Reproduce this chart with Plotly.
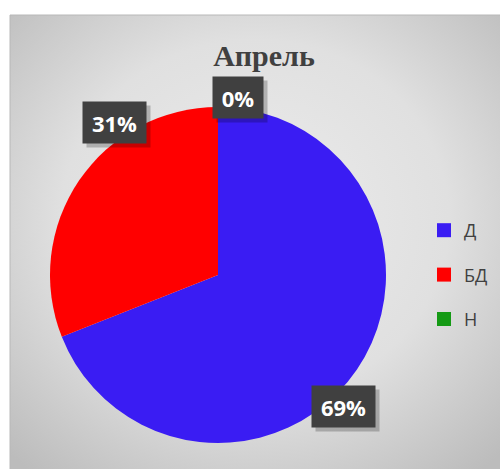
import base64
import plotly.graph_objects as go

# ---- data ----
categories = ["Д", "БД", "Н"]
values = [69, 31, 0]
colors = ["#3A1CF3", "#FF0000", "#159A15"]
title_text = "Апрель"

W, H = 500, 469

# label box positions (paper px, centre of each box) for each category
label_pos_px = {"Д": (343, 406), "БД": (114, 122), "Н": (238, 98)}

fig = go.Figure()

# pie geometry in pixels -> paper domain
cx, cy, r = 218, 275, 168
dom_x = [(cx - r) / W, (cx + r) / W]
dom_y = [(H - cy - r) / H, (H - cy + r) / H]

fig.add_trace(go.Pie(
    labels=categories, values=values, sort=False, direction="clockwise",
    rotation=0, marker=dict(colors=colors, line=dict(width=0)),
    textinfo="none", showlegend=False, domain=dict(x=dom_x, y=dom_y),
    hoverinfo="label+percent",
))

# legend entries
for i, (c, col) in enumerate(zip(categories, colors)):
    fig.add_trace(go.Scatter(
        x=[None], y=[None], mode="markers", name=c, legendgroup=f"g{i}",
        marker=dict(symbol="square", size=14, color=col), showlegend=True,
    ))

# gradient background via svg
svg = f'''<svg xmlns="http://www.w3.org/2000/svg" width="490" height="454">
<defs><radialGradient id="g" cx="50%" cy="45%" r="72%">
<stop offset="0" stop-color="#ececec"/><stop offset="0.55" stop-color="#e0e0e0"/>
<stop offset="1" stop-color="#bcbcbc"/></radialGradient></defs>
<rect width="490" height="454" fill="url(#g)"/></svg>'''
src = "data:image/svg+xml;base64," + base64.b64encode(svg.encode()).decode()

fig.add_layout_image(dict(
    source=src, xref="paper", yref="paper", x=10 / W, y=1 - 15 / H,
    sizex=490 / W, sizey=454 / H, sizing="stretch", layer="below",
    xanchor="left", yanchor="top",
))
fig.add_shape(type="rect", xref="paper", yref="paper",
              x0=10 / W, x1=1.01, y0=-0.01, y1=1 - 15 / H,
              line=dict(color="#b8b8b8", width=1), fillcolor="rgba(0,0,0,0)",
              layer="below")

# data labels
total = sum(values)
for c, v in zip(categories, values):
    px, py = label_pos_px[c]
    txt = f"{round(100 * v / total)}%"
    w = 38 if len(txt) == 2 else 51
    common = dict(xref="paper", yref="paper", x=px / W, y=1 - py / H,
                  xanchor="center", yanchor="middle",
                  showarrow=False, width=w, height=29, borderpad=6)
    fig.add_annotation(text=txt, bgcolor="rgba(0,0,0,0.22)", xshift=4, yshift=-4,
                       font=dict(family="Open Sans", size=22, color="rgba(0,0,0,0)"),
                       **common)
    fig.add_annotation(text=f"<b>{txt}</b>", bgcolor="#404040",
                       font=dict(family="Open Sans", size=22, color="white"),
                       **common)

fig.update_layout(
    width=W, height=H, margin=dict(l=0, r=0, t=0, b=0),
    paper_bgcolor="white", plot_bgcolor="rgba(0,0,0,0)",
    xaxis=dict(visible=False), yaxis=dict(visible=False),
    title=dict(text=f"<b>{title_text}</b>", x=264 / W, xanchor="center",
               y=1 - 55 / H, yanchor="middle",
               font=dict(family="Liberation Serif", size=30, color="#404040")),
    legend=dict(x=424 / W, xanchor="left", y=1 - 275 / H, yanchor="middle",
                font=dict(family="Open Sans", size=18, color="#404040"),
                tracegroupgap=18, bgcolor="rgba(0,0,0,0)", itemwidth=30),
    showlegend=True,
)

fig.write_html("out.html", config={"displayModeBar": False},
               post_script="document.body.style.margin='0';document.body.style.overflow='hidden';")
